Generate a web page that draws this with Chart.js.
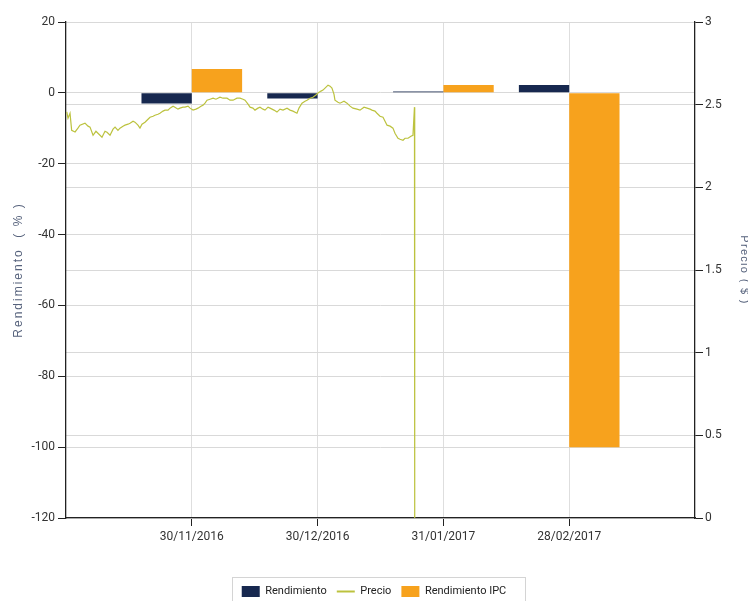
<!DOCTYPE html>
<html>
<head>
<meta charset="utf-8">
<script src="https://cdn.jsdelivr.net/npm/chart.js@4.4.1/dist/chart.umd.min.js"></script>
<style>
  html, body { margin: 0; padding: 0; background: #ffffff; overflow: hidden; }
  #wrap { position: relative; width: 748px; height: 601px; }
</style>
</head>
<body>
<div id="wrap"><canvas id="c"></canvas></div>
<script>
// ---- data ----
const dateLabels = ['30/11/2016', '30/12/2016', '31/01/2017', '28/02/2017'];
const tickPositions = [1, 2, 3, 4];
const rendimiento = [-3.0, -1.6, 0.4, 2.2];
const rendimientoIPC = [6.7, 0.2, 2.2, -100];
const leftTicks = [-120, -100, -80, -60, -40, -20, 0, 20];
const rightTicks = [0, 0.5, 1, 1.5, 2, 2.5, 3];

// Precio: position along the month axis (0 = end of Oct 2016) and price
const precioX = [0.006,0.016,0.032,0.045,0.072,0.095,0.111,0.151,0.175,0.191,
0.215,0.238,0.254,0.286,0.310,0.326,0.350,0.374,0.390,0.413,
0.429,0.453,0.469,0.493,0.509,0.533,0.548,0.572,0.588,0.604,
0.628,0.652,0.668,0.692,0.707,0.731,0.747,0.771,0.787,0.811,
0.827,0.851,0.866,0.890,0.906,0.930,0.946,0.970,0.986,1.010,
1.033,1.049,1.073,1.089,1.105,1.121,1.145,1.169,1.192,1.224,
1.248,1.280,1.304,1.328,1.359,1.383,1.407,1.423,1.447,1.463,
1.486,1.502,1.526,1.542,1.566,1.582,1.606,1.622,1.653,1.677,
1.701,1.725,1.757,1.781,1.804,1.836,1.852,1.876,1.900,1.916,
1.940,1.963,1.987,2.003,2.027,2.043,2.067,2.083,2.099,2.114,
2.130,2.138,2.162,2.178,2.210,2.234,2.258,2.281,2.313,2.337,
2.369,2.393,2.417,2.432,2.456,2.472,2.496,2.520,2.536,2.552,
2.576,2.599,2.615,2.639,2.655,2.679,2.695,2.719,2.742,2.758,
2.770,2.772];
const precioY = [2.456,2.418,2.448,2.345,2.335,2.358,2.376,2.388,2.370,2.364,
2.315,2.339,2.327,2.303,2.339,2.333,2.315,2.352,2.364,2.345,
2.358,2.370,2.376,2.382,2.388,2.400,2.394,2.376,2.358,2.382,
2.394,2.412,2.424,2.430,2.436,2.442,2.448,2.461,2.467,2.467,
2.479,2.491,2.485,2.473,2.479,2.485,2.485,2.491,2.479,2.467,
2.473,2.479,2.491,2.497,2.509,2.527,2.533,2.539,2.533,2.545,
2.539,2.539,2.527,2.527,2.539,2.539,2.533,2.527,2.503,2.485,
2.479,2.467,2.479,2.485,2.473,2.467,2.485,2.479,2.467,2.455,
2.473,2.467,2.479,2.467,2.461,2.448,2.479,2.509,2.521,2.527,
2.539,2.545,2.558,2.570,2.582,2.588,2.606,2.618,2.612,2.600,
2.564,2.527,2.515,2.509,2.521,2.509,2.491,2.479,2.473,2.467,
2.485,2.479,2.473,2.467,2.461,2.448,2.430,2.424,2.400,2.376,
2.370,2.358,2.327,2.297,2.291,2.285,2.297,2.297,2.309,2.315,
2.485,0];

// ---- styles ----
const NAVY = '#17284f';
const ORANGE = '#f7a21d';
const OLIVE = '#bcc23e';
const GRID = '#d9d9d9';
const AXIS = '#222222';
const TICK_TXT = '#333333';
const TITLE_TXT = '#56627c';
const NARROW = "'Liberation Sans Narrow', 'Arial Narrow', Roboto, sans-serif";
const REG = "'Liberation Sans', Arial, sans-serif";

function spacedTitle(axis, spacing) {
  if (axis._spacedTitle) return;
  axis._spacedTitle = true;
  const orig = axis.drawTitle;
  axis.drawTitle = function () {
    const c = this.ctx;
    c.save();
    c.letterSpacing = spacing;
    orig.call(this);
    c.restore();
  };
}

const legendBorder = {
  id: 'legendBorder',
  afterDraw(chart) {
    const lg = chart.legend;
    if (!lg || !lg.legendHitBoxes || !lg.legendHitBoxes.length) return;
    const hb = lg.legendHitBoxes;
    let l = Infinity, r = -Infinity, t = Infinity;
    hb.forEach(b => { l = Math.min(l, b.left); r = Math.max(r, b.left + b.width); t = Math.min(t, b.top); });
    const ctx = chart.ctx;
    ctx.save();
    ctx.strokeStyle = '#d4d4d4';
    ctx.lineWidth = 1;
    ctx.strokeRect(Math.round(l - 10) + 0.5, Math.round(t - 9) + 0.5, Math.round(r - l + 28), 40);
    ctx.restore();
  }
};

const ctx = document.getElementById('c').getContext('2d');
new Chart(ctx, {
  type: 'bar',
  data: {
    datasets: [
      {
        label: 'Rendimiento',
        type: 'bar',
        data: tickPositions.map((x, i) => ({ x: x, y: rendimiento[i] })),
        backgroundColor: NAVY,
        borderWidth: 0,
        yAxisID: 'y',
        order: 1,
        pointStyle: 'rect',
        barPercentage: 1.0,
        categoryPercentage: 0.8
      },
      {
        label: 'Precio',
        type: 'line',
        data: precioX.map((x, i) => ({ x: x, y: precioY[i] })),
        borderColor: OLIVE,
        backgroundColor: OLIVE,
        borderWidth: 1.2,
        pointRadius: 0,
        pointHoverRadius: 0,
        pointStyle: 'line',
        tension: 0,
        fill: false,
        yAxisID: 'y2',
        order: 0
      },
      {
        label: 'Rendimiento IPC',
        type: 'bar',
        data: tickPositions.map((x, i) => ({ x: x, y: rendimientoIPC[i] })),
        backgroundColor: ORANGE,
        borderWidth: 0,
        yAxisID: 'y',
        order: 2,
        pointStyle: 'rect',
        barPercentage: 1.0,
        categoryPercentage: 0.8
      }
    ]
  },
  options: {
    responsive: true,
    maintainAspectRatio: false,
    animation: false,
    devicePixelRatio: 1,
    layout: { padding: { top: 22, left: 0, right: 0, bottom: -6 } },
    plugins: {
      tooltip: { enabled: false },
      legend: {
        position: 'bottom',
        labels: {
          usePointStyle: true,
          pointStyleWidth: 18,
          boxHeight: 11,
          padding: 10,
          color: '#222',
          font: { family: NARROW, size: 11 },
          sort: (a, b) => a.datasetIndex - b.datasetIndex,
          generateLabels(chart) {
            const items = Chart.defaults.plugins.legend.labels.generateLabels(chart);
            items.forEach(it => {
              if (it.pointStyle === 'line') { it.lineWidth = 2; it.strokeStyle = OLIVE; }
              else { it.lineWidth = 0; }
            });
            return items;
          }
        }
      }
    },
    scales: {
      x: {
        type: 'linear',
        min: 0,
        max: 5,
        offset: false,
        afterBuildTicks(axis) { axis.ticks = tickPositions.map(v => ({ value: v })); },
        afterFit(axis) { axis.height = 58; },
        ticks: {
          autoSkip: false,
          maxRotation: 0,
          padding: 4,
          color: TICK_TXT,
          font: { family: NARROW, size: 12 },
          callback: (v) => { const i = tickPositions.indexOf(v); return i >= 0 ? dateLabels[i] : ''; }
        },
        grid: { offset: false, color: '#dedede', lineWidth: 1, tickLength: 8, tickColor: AXIS, drawOnChartArea: true },
        border: { display: true, color: AXIS, width: 1.3 }
      },
      y: {
        type: 'linear',
        position: 'left',
        min: -120,
        max: 20,
        afterBuildTicks(axis) { axis.ticks = leftTicks.map(v => ({ value: v })); },
        afterFit(axis) { axis.width = 66; spacedTitle(axis, '2px'); },
        ticks: {
          padding: 3,
          color: TICK_TXT,
          font: { family: NARROW, size: 12 },
          callback: (v) => String(v)
        },
        grid: { color: GRID, lineWidth: 1, tickLength: 8, tickColor: AXIS },
        border: { display: true, color: AXIS, width: 1.3 },
        title: {
          display: true,
          text: 'Rendimiento  ( % )',
          color: TITLE_TXT,
          font: { family: REG, size: 12, lineHeight: 1.2 },
          padding: { top: 11, bottom: 0 }
        }
      },
      y2: {
        type: 'linear',
        position: 'right',
        min: 0,
        max: 3,
        afterBuildTicks(axis) { axis.ticks = rightTicks.map(v => ({ value: v })); },
        afterFit(axis) { axis.width = 53; spacedTitle(axis, '1.3px'); },
        ticks: {
          padding: 2,
          color: TICK_TXT,
          font: { family: NARROW, size: 12 },
          callback: (v) => String(v)
        },
        grid: { color: GRID, lineWidth: 1, tickLength: 8, tickColor: AXIS, drawOnChartArea: true },
        border: { display: true, color: AXIS, width: 1.3 },
        title: {
          display: true,
          text: 'Precio ( $ )',
          color: TITLE_TXT,
          font: { family: REG, size: 11, lineHeight: 0.7 },
          padding: { top: 0, bottom: 0 }
        }
      }
    }
  },
  plugins: [legendBorder]
});
</script>
</body>
</html>
